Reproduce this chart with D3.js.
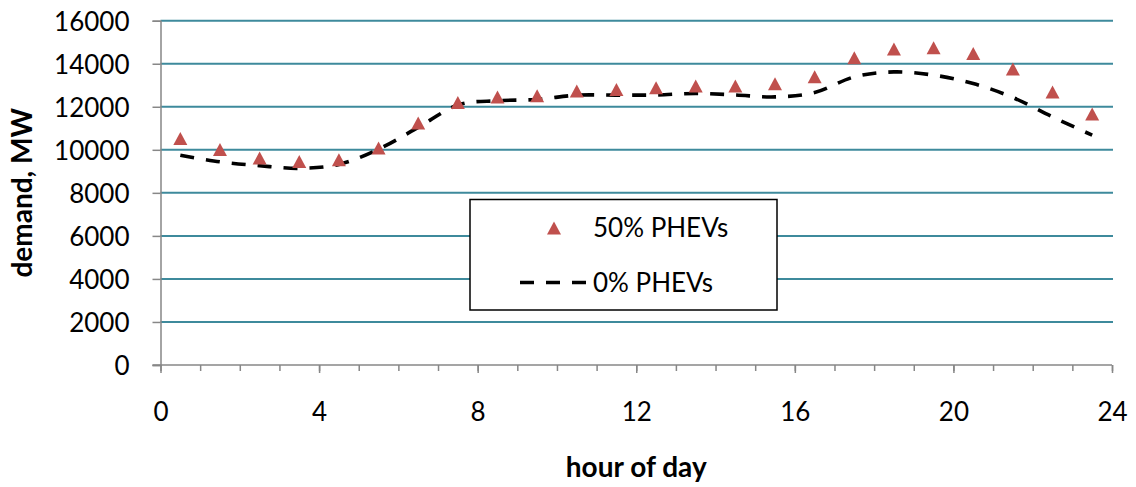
<!DOCTYPE html>
<html>
<head>
<meta charset="utf-8">
<script src="https://cdn.jsdelivr.net/npm/d3@7/dist/d3.min.js"></script>
<style>
  html, body { margin: 0; padding: 0; background: #fff; }
  svg { display: block; }
  text { font-family: Lato, "Open Sans", sans-serif; fill: #000; }
</style>
</head>
<body>
<svg id="chart" width="1136" height="487"></svg>
<script>
// Hour of day (midpoint of each hourly interval)
const hours = [0.5, 1.5, 2.5, 3.5, 4.5, 5.5, 6.5, 7.5, 8.5, 9.5, 10.5, 11.5,
               12.5, 13.5, 14.5, 15.5, 16.5, 17.5, 18.5, 19.5, 20.5, 21.5, 22.5, 23.5];
// Demand with 50% plug-in hybrid penetration, MW
const demand50 = [10520, 10010, 9620, 9460, 9540, 10090, 11250, 12200, 12460, 12510, 12730, 12800,
                  12880, 12970, 12960, 13070, 13390, 14280, 14690, 14740, 14480, 13750, 12690, 11660];
// Baseline demand with no plug-in hybrids, MW
const demand0 = [9750, 9440, 9260, 9140, 9320, 10030, 11040, 12080, 12280, 12340, 12540, 12540,
                 12550, 12620, 12550, 12460, 12660, 13390, 13620, 13470, 13080, 12430, 11530, 10680];
// Axis ticks
const xTicks = [0, 4, 8, 12, 16, 20, 24];
const xMinorTicks = d3.range(0, 25, 1);
const yTicks = [0, 2000, 4000, 6000, 8000, 10000, 12000, 14000, 16000];
const seriesNames = ["50% PHEVs", "0% PHEVs"];

const svg = d3.select("#chart");
const plotLeft = 160.5, plotRight = 1112, plotTop = 20.7, plotBottom = 365;
const gridRight = 1113;

const x = d3.scaleLinear().domain([0, 24]).range([plotLeft, plotRight]);
const y = d3.scaleLinear().domain([0, 16000]).range([plotBottom, plotTop]);

const gridColor = "#3e8a9c";
const axisColor = "#878787";
const markerColor = "#c0504d";
const fontSize = 26;
const titleSize = 28;

// Horizontal gridlines
svg.append("g")
  .selectAll("line")
  .data(yTicks.filter(d => d > 0))
  .join("line")
  .attr("x1", plotLeft).attr("x2", gridRight)
  .attr("y1", d => y(d)).attr("y2", d => y(d))
  .attr("stroke", gridColor).attr("stroke-width", 2);

// Y axis
const yAxis = svg.append("g")
  .attr("transform", `translate(${plotLeft},0)`)
  .call(d3.axisLeft(y).tickValues(yTicks).tickSize(8).tickPadding(23).tickFormat(d3.format("d")));
yAxis.select(".domain").attr("stroke", axisColor).attr("stroke-width", 1.5);
yAxis.selectAll(".tick line").attr("stroke", axisColor).attr("stroke-width", 1.5);
yAxis.selectAll(".tick text")
  .style("font-family", "Lato, sans-serif").attr("font-size", fontSize).attr("fill", "#000")
  .attr("dy", "0.36em");

// X axis: minor hourly ticks, then major ticks with labels
const xMinor = svg.append("g")
  .attr("transform", `translate(0,${plotBottom})`)
  .call(d3.axisBottom(x).tickValues(xMinorTicks).tickSize(6).tickFormat(""));
xMinor.select(".domain").remove();
xMinor.selectAll(".tick line").attr("stroke", axisColor).attr("stroke-width", 1.5);

const xAxis = svg.append("g")
  .attr("transform", `translate(0,${plotBottom})`)
  .call(d3.axisBottom(x).tickValues(xTicks).tickSize(8).tickSizeOuter(0).tickPadding(30));
xAxis.select(".domain").remove();
xAxis.selectAll(".tick line").attr("stroke", axisColor).attr("stroke-width", 1.5);
xAxis.selectAll(".tick text")
  .style("font-family", "Lato, sans-serif").attr("font-size", fontSize).attr("fill", "#000");

// X axis baseline (extends under the y tick at zero)
svg.append("line")
  .attr("x1", plotLeft - 8).attr("x2", plotRight)
  .attr("y1", plotBottom).attr("y2", plotBottom)
  .attr("stroke", axisColor).attr("stroke-width", 1.5);

// Baseline demand: smoothed dashed line
const line = d3.line()
  .x((d, i) => x(hours[i]))
  .y(d => y(d))
  .curve(d3.curveCardinal.tension(0));
svg.append("path")
  .datum(demand0)
  .attr("d", line)
  .attr("fill", "none")
  .attr("stroke", "#000")
  .attr("stroke-width", 3.6)
  .attr("stroke-dasharray", "14,12");

// 50% PHEV demand: triangle markers
function tri(cx, cy, w, h) {
  return `M${cx - w / 2},${cy + h / 2}L${cx},${cy - h / 2}L${cx + w / 2},${cy + h / 2}Z`;
}
svg.append("g")
  .selectAll("path")
  .data(demand50)
  .join("path")
  .attr("d", (d, i) => tri(x(hours[i]), y(d), 14, 13))
  .attr("fill", markerColor);

// Legend
const lg = svg.append("g");
lg.append("rect")
  .attr("x", 470).attr("y", 199.5).attr("width", 307).attr("height", 110.5)
  .attr("fill", "#fff").attr("stroke", "#000").attr("stroke-width", 1.5);
lg.append("path").attr("d", tri(554, 228, 14, 13)).attr("fill", markerColor);
lg.append("text").attr("x", 593).attr("y", 236.5).attr("font-size", fontSize).text(seriesNames[0]);
lg.append("line")
  .attr("x1", 520).attr("x2", 587).attr("y1", 282.5).attr("y2", 282.5)
  .attr("stroke", "#000").attr("stroke-width", 3.6).attr("stroke-dasharray", "14,12");
lg.append("text").attr("x", 593).attr("y", 291.5).attr("font-size", fontSize).text(seriesNames[1]);

// Axis titles
svg.append("text")
  .attr("x", (plotLeft + plotRight) / 2).attr("y", 477)
  .attr("text-anchor", "middle").attr("font-size", titleSize).attr("font-weight", "bold")
  .text("hour of day");
svg.append("text")
  .attr("transform", `translate(32,${(plotTop + plotBottom) / 2}) rotate(-90)`)
  .attr("text-anchor", "middle").attr("font-size", titleSize).attr("font-weight", "bold")
  .text("demand, MW");
</script>
</body>
</html>
